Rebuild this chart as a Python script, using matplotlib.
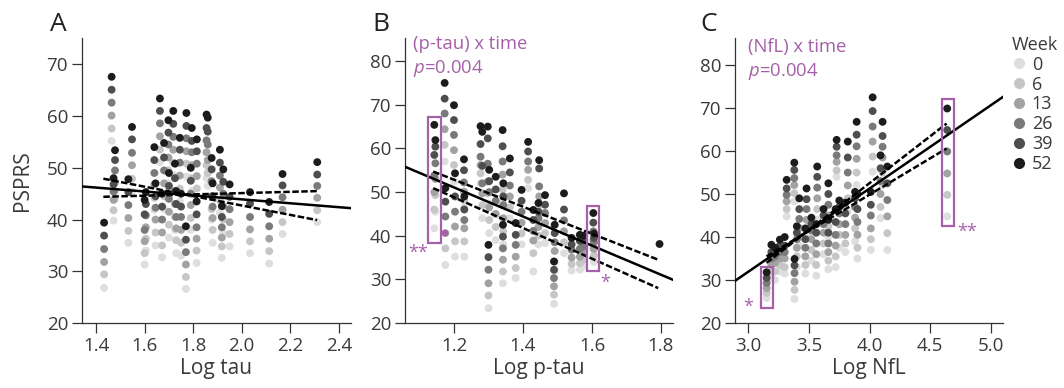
import numpy as np
import matplotlib
matplotlib.use("Agg")
import matplotlib.pyplot as plt
from matplotlib.lines import Line2D
from matplotlib.patches import Rectangle

plt.rcParams['font.family'] = ['Open Sans', 'DejaVu Sans']
plt.rcParams['mathtext.fontset'] = 'custom'
plt.rcParams['mathtext.rm'] = 'Open Sans'
plt.rcParams['mathtext.it'] = 'Open Sans:italic'

nan = np.nan
weeks = [0, 6, 13, 26, 39, 52]
week_colors = ["#dedede", "#c6c6c6", "#a2a2a2", "#7a7a7a", "#4e4e4e", "#1c1c1c"]
purple = "#a660a8"
grey_txt = '#3a3a3a'

# ---- panel A: log tau, one column of PSPRS per subject (week 0 ... 52)
tau_x = [1.433, 1.464, 1.478, 1.472, 1.533, 1.548, 1.600, 1.605, 1.640, 1.645,
         1.663, 1.672, 1.680, 1.698, 1.700, 1.718, 1.725, 1.730, 1.745, 1.750,
         1.770, 1.772, 1.794, 1.790, 1.814, 1.815, 1.855, 1.860, 1.876, 1.880,
         1.910, 1.924, 1.918, 1.950, 2.034, 2.113, 2.168, 2.311]
tau_psprs = [
    [26.8, 29.4, 31.8, 34.3, 36.9, 39.4], [55.2, 57.6, 60.1, 62.6, 65.1, 67.6],
    [44.0, 45.5, 47.2, 49.5, 51.5, 53.4], [39.8, 41.8, 43.8, 45.4, 46.8, 48.0],
    [35.5, 37.8, 40.3, 42.8, 45.3, 47.8], [45.4, 47.9, 50.5, 52.9, 55.5, 57.9],
    [31.3, 33.5, 35.8, 38.0, 41.0, 43.8], [34.0, 36.3, 38.5, 40.8, 43.0, 45.3],
    [41.9, 44.2, 46.8, 49.0, 51.5, 54.0], [35.0, 37.5, 40.0, 42.3, 44.5, 47.0],
    [51.1, 53.5, 56.1, 58.6, 61.0, 63.4], [32.7, 35.0, 37.5, 40.0, 42.5, 45.0],
    [42.0, 44.5, 47.0, 49.5, 52.0, 54.8], [47.0, 49.5, 52.0, 54.5, 56.8, 59.2],
    [36.5, 39.0, 41.5, 44.0, 46.5, 49.0], [48.6, 51.0, 53.5, 56.0, 58.5, 61.0],
    [38.0, 40.5, 43.0, 45.5, 48.0, 50.8], [33.5, 36.0, 38.3, 40.5, 43.0, 45.5],
    [43.5, 46.0, 48.5, 51.0, 53.5, 55.8], [33.0, 35.5, 38.0, 40.5, 42.5, 45.0],
    [26.6, 28.9, 31.3, 33.7, 36.1, 38.7], [48.3, 50.8, 53.2, 55.7, 58.1, 60.6],
    [45.5, 48.0, 50.5, 53.0, 55.2, 57.7], [38.0, 40.3, 42.8, 45.0, 47.5, 50.0],
    [31.6, 34.0, 36.3, 38.5, 41.0, 43.5], [43.5, 46.0, 48.4, 50.8, 53.2, 55.5],
    [48.0, 50.5, 53.0, 55.3, 57.7, 60.3], [46.5, 49.0, 51.5, 54.5, 57.0, 59.7],
    [40.0, 42.0, 44.5, 47.4, 49.7, 51.9], [35.5, 38.0, 40.3, 42.5, 44.5, 47.0],
    [41.3, 43.7, 46.2, 48.5, 51.0, 53.5], [37.4, 40.0, 42.6, 45.0, 47.3, 49.7],
    [32.6, 34.8, 36.5, 38.5, 40.5, 42.6], [34.8, 37.2, 39.5, 42.0, 44.4, 46.8],
    [33.5, 35.8, 38.1, 40.5, 43.1, 45.3], [31.5, 33.9, 36.3, 38.7, 41.1, 43.4],
    [37.2, 39.5, 41.9, 44.3, 46.6, 48.8], [39.5, 41.8, 44.2, 46.5, 48.7, 51.1]]
tau_fit_x = [1.342, 2.45]
tau_fit_y = [46.4, 42.2]
tau_dash1_x = [1.43, 2.31]
tau_dash1_y = [47.9, 39.9]
tau_dash2_x = [1.43, 2.31]
tau_dash2_y = [44.4, 45.5]

# ---- panel B: log p-tau
ptau_x = [1.143, 1.146, 1.173, 1.175, 1.200, 1.203, 1.229, 1.230, 1.277, 1.282,
          1.300, 1.298, 1.302, 1.321, 1.341, 1.343, 1.342, 1.362, 1.379, 1.396,
          1.415, 1.430, 1.447, 1.445, 1.464, 1.490, 1.492, 1.519, 1.541, 1.565,
          1.575, 1.604, 1.606, 1.796]
ptau_psprs = [
    [41.7, 46.0, 50.0, 53.8, 58.5, 65.4], [45.5, 49.3, 53.0, 56.6, 60.4, 61.9],
    [57.0, 60.8, 64.4, 68.0, 71.4, 75.0], [33.3, 37.1, 40.6, 44.4, 47.8, 50.9],
    [52.4, 56.2, 59.6, 63.1, 66.5, 69.9], [35.2, 38.7, 42.1, 45.5, 49.0, 54.3],
    [46.4, 48.2, 50.1, 52.2, 55.0, 57.5], [35.2, 38.7, 41.7, 43.6, 46.0, 49.0],
    [52.0, 54.3, 56.2, 58.1, 61.0, 65.1], [44.0, 47.0, 49.7, 52.0, 56.0, 63.8],
    [23.4, 26.3, 29.1, 32.2, 35.1, 37.9], [47.4, 49.7, 52.4, 56.5, 62.3, 65.0],
    [40.6, 43.6, 46.5, 50.0, 52.5, 55.1], [39.0, 42.0, 45.0, 48.0, 50.6, 53.5],
    [47.5, 50.5, 54.0, 57.0, 60.5, 64.2], [38.0, 41.0, 44.0, 47.0, 49.0, 52.0],
    [29.1, 31.8, 34.5, 37.1, 39.8, 42.5], [44.0, 46.5, 49.0, 51.5, 54.5, 57.7],
    [30.3, 32.6, 35.2, 37.9, 40.2, 42.9], [38.0, 40.5, 43.0, 45.5, 48.0, 50.5],
    [50.9, 52.8, 55.1, 57.0, 59.3, 61.5], [31.8, 36.0, 38.9, 41.1, 43.6, 45.9],
    [45.2, 47.1, 49.0, 51.3, 55.4, 57.3], [38.0, 40.0, 42.0, 44.0, 45.5, 47.5],
    [38.3, 40.6, 42.9, 45.2, 47.1, 49.3], [24.4, 26.5, 28.4, 30.3, 32.2, 34.1],
    [32.0, 34.0, 36.5, 38.5, 40.6, 42.5], [36.0, 38.5, 41.0, 43.5, 46.0, 49.7],
    [32.0, 33.5, 35.0, 36.8, 38.0, 39.5], [32.2, 33.7, 35.2, 37.0, 38.8, 40.2],
    [33.0, 34.5, 36.0, 37.5, 39.0, 40.0], [35.2, 37.0, 39.0, 41.0, 43.0, 45.2],
    [34.0, 35.5, 37.0, 38.5, 39.5, 40.5], [nan, nan, nan, nan, nan, 38.1]]
ptau_marked_x = [1.174]
ptau_marked_y = [40.6]
ptau_fit_x = [1.058, 1.835]
ptau_fit_y = [55.8, 29.9]
ptau_dash1_x = [1.14, 1.792]
ptau_dash1_y = [54.7, 34.5]
ptau_dash2_x = [1.14, 1.792]
ptau_dash2_y = [50.9, 28.0]
ptau_boxes = [(1.126, 38.3, 1.163, 67.2), (1.586, 32.0, 1.621, 46.8)]
ptau_stars = [(1.096, 36.0, "**"), (1.638, 29.2, "*")]

# ---- panel C: log NfL
nfl_x = [3.151, 3.190, 3.260, 3.316, 3.300, 3.379, 3.381, 3.420, 3.480, 3.470,
         3.568, 3.560, 3.660, 3.660, 3.728, 3.720, 3.820, 3.800, 3.893, 3.900,
         4.025, 4.010, 4.107, 4.090, 4.146, 4.640, 3.220, 3.400, 3.520, 3.620,
         3.750, 3.880]
nfl_psprs = [
    [25.8, 27.0, 28.1, 29.3, 30.5, 31.8], [30.5, 32.0, 33.5, 35.0, 36.5, 38.2],
    [32.0, 33.5, 35.0, 36.5, 38.0, 39.4], [44.8, 46.5, 48.3, 49.8, 51.3, 53.3],
    [31.5, 33.0, 35.0, 36.5, 38.0, 40.0], [48.3, 50.2, 52.1, 53.7, 55.6, 57.3],
    [25.6, 27.7, 29.6, 31.6, 33.4, 34.9], [38.0, 40.0, 42.1, 44.2, 46.5, 49.0],
    [40.0, 42.0, 44.0, 46.5, 48.8, 51.3], [31.5, 33.5, 35.5, 37.5, 39.5, 42.0],
    [44.0, 46.5, 49.0, 51.5, 54.0, 56.4], [31.0, 33.5, 36.0, 38.5, 41.0, 43.0],
    [40.0, 42.5, 45.0, 47.5, 50.0, 52.5], [32.5, 34.5, 36.5, 38.5, 41.0, 44.0],
    [54.0, 55.5, 57.5, 59.0, 61.0, 62.6], [33.0, 35.5, 38.0, 40.5, 43.5, 46.5],
    [46.0, 49.0, 52.0, 55.0, 58.5, 62.2], [36.5, 38.5, 40.5, 43.0, 45.5, 48.0],
    [52.1, 55.0, 58.2, 61.1, 63.8, 66.8], [35.0, 37.5, 40.5, 43.5, 46.5, 50.0],
    [55.2, 58.7, 62.2, 65.7, 69.3, 72.5], [37.0, 39.5, 42.0, 45.0, 47.5, 50.5],
    [52.0, 55.0, 58.5, 61.0, 63.5, 66.8], [44.4, 47.0, 50.0, 53.0, 56.0, 59.0],
    [37.0, 40.9, 44.8, 48.6, 52.5, 56.4], [44.8, 49.8, 54.8, 59.9, 64.9, 69.9],
    [30.0, 32.0, 34.0, 35.5, 36.5, 37.5], [33.0, 35.5, 37.5, 39.5, 41.0, 42.5],
    [34.5, 37.0, 39.5, 41.5, 43.0, 44.5], [36.0, 38.5, 41.0, 43.0, 45.0, 46.5],
    [37.5, 40.5, 43.0, 45.5, 47.0, 48.5], [39.0, 42.0, 44.5, 47.0, 49.0, 50.5]]
nfl_fit_x = [2.89, 5.10]
nfl_fit_y = [29.8, 72.6]
nfl_dash1_x = [3.15, 4.635]
nfl_dash1_y = [34.0, 66.4]
nfl_dash2_x = [3.15, 4.635]
nfl_dash2_y = [35.5, 60.6]
nfl_boxes = [(3.107, 23.4, 3.203, 33.1), (4.594, 42.6, 4.695, 72.1)]
nfl_stars = [(3.0, 23.8, "*"), (4.80, 41.2, "**")]


def draw_panel(ax, xs, ys, fit, d1, d2, xlim, ylim, xticks, yticks):
    ys = np.array(ys, dtype=float)
    xs = np.array(xs)
    for k in range(len(weeks)):
        ax.scatter(xs, ys[:, k], s=32, color=week_colors[k], edgecolors='none',
                   zorder=2 + k * 0.1)
    ax.plot(fit[0], fit[1], color='black', lw=1.8, zorder=5)
    ax.plot(d1[0], d1[1], color='black', lw=1.8, ls=(0, (2.6, 1.0)), zorder=5)
    ax.plot(d2[0], d2[1], color='black', lw=1.8, ls=(0, (2.6, 1.0)), zorder=5)
    ax.set_xlim(*xlim)
    ax.set_ylim(*ylim)
    ax.set_xticks(xticks)
    ax.set_yticks(yticks)
    for s in ['top', 'right']:
        ax.spines[s].set_visible(False)
    for s in ['left', 'bottom']:
        ax.spines[s].set_color('#333333')
        ax.spines[s].set_linewidth(0.9)
    ax.spines['left'].set_bounds(20, ylim[1])
    ax.tick_params(length=7, width=0.9, color='#333333', labelsize=13.5,
                   labelcolor=grey_txt, pad=3)


def draw_marks(ax, boxes, stars):
    for x0, y0, x1, y1 in boxes:
        ax.add_patch(Rectangle((x0, y0), x1 - x0, y1 - y0, fill=False,
                               ec=purple, lw=1.6, zorder=6))
    for x, y, t in stars:
        ax.text(x, y, t, color=purple, fontsize=13, ha='center', va='center',
                zorder=6)


fig = plt.figure(figsize=(10.64, 3.88), dpi=100)
bot = 65 / 388
hgt = 285 / 388
axA = fig.add_axes([82 / 1064, bot, 269 / 1064, hgt])
axB = fig.add_axes([405 / 1064, bot, 268 / 1064, hgt])
axC = fig.add_axes([735 / 1064, bot, 268 / 1064, hgt])

draw_panel(axA, tau_x, tau_psprs, (tau_fit_x, tau_fit_y),
           (tau_dash1_x, tau_dash1_y), (tau_dash2_x, tau_dash2_y),
           (1.342, 2.45), (20, 75.1), [1.4, 1.6, 1.8, 2.0, 2.2, 2.4],
           [20, 30, 40, 50, 60, 70])
axA.set_xlabel("Log tau", fontsize=15, color=grey_txt, labelpad=2)
axA.set_ylabel("PSPRS", fontsize=15, color=grey_txt, labelpad=10)

draw_panel(axB, ptau_x, ptau_psprs, (ptau_fit_x, ptau_fit_y),
           (ptau_dash1_x, ptau_dash1_y), (ptau_dash2_x, ptau_dash2_y),
           (1.058, 1.835), (20, 85.3), [1.2, 1.4, 1.6, 1.8],
           [20, 30, 40, 50, 60, 70, 80])
axB.scatter(ptau_marked_x, ptau_marked_y, s=22, color=purple,
            edgecolors='none', zorder=4)
draw_marks(axB, ptau_boxes, ptau_stars)
axB.set_xlabel("Log p-tau", fontsize=15, color=grey_txt, labelpad=2)
axB.text(0.03, 1.01, "(p-tau) x time", transform=axB.transAxes, color=purple,
         fontsize=13.3, ha='left', va='top')
axB.text(0.03, 0.93, r"$p$=0.004", transform=axB.transAxes, color=purple,
         fontsize=13.3, ha='left', va='top')

draw_panel(axC, nfl_x, nfl_psprs, (nfl_fit_x, nfl_fit_y),
           (nfl_dash1_x, nfl_dash1_y), (nfl_dash2_x, nfl_dash2_y),
           (2.89, 5.10), (20, 86.3), [3.0, 3.5, 4.0, 4.5, 5.0],
           [20, 30, 40, 50, 60, 70, 80])
draw_marks(axC, nfl_boxes, nfl_stars)
axC.set_xlabel("Log NfL", fontsize=15, color=grey_txt, labelpad=2)
axC.text(0.05, 1.0, "(NfL) x time", transform=axC.transAxes, color=purple,
         fontsize=13.3, ha='left', va='top')
axC.text(0.05, 0.92, r"$p$=0.004", transform=axC.transAxes, color=purple,
         fontsize=13.3, ha='left', va='top')

for lab, px in zip("ABC", [50, 372, 700]):
    fig.text(px / 1064, 1 - 12 / 388, lab, fontsize=19, color='#222222',
             ha='left', va='top')

handles = [Line2D([], [], ls='none', marker='o', ms=8, mec='none',
                  color=c, label=str(w)) for w, c in zip(weeks, week_colors)]
leg = fig.legend(handles=handles, title="Week", loc='upper left',
                 bbox_to_anchor=(1012 / 1064, 1 - 36 / 388), frameon=False,
                 fontsize=13, title_fontsize=13, handlelength=0.8,
                 handletextpad=0.3, labelspacing=0.1, borderpad=0,
                 borderaxespad=0, alignment='left')
for t in leg.get_texts():
    t.set_color(grey_txt)
leg.get_title().set_color(grey_txt)

fig.savefig("out.png", dpi=100)
